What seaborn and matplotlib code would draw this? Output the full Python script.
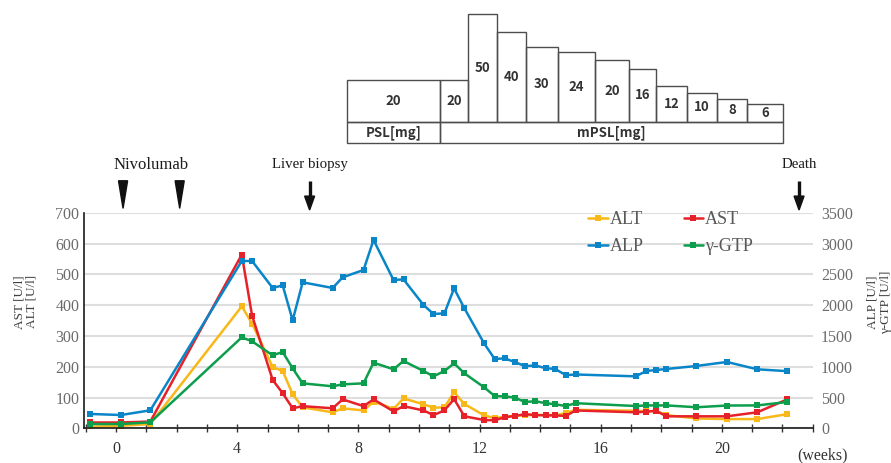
import numpy as np
import seaborn as sns
import matplotlib.pyplot as plt
from matplotlib.patches import Polygon

# sampling times (weeks) and lab values
weeks = [-0.85, 0.16, 1.13, 4.15, 4.49, 5.17, 5.5, 5.83, 6.16, 7.15, 7.48, 8.17, 8.5,
         9.16, 9.49, 10.15, 10.48, 10.84, 11.16, 11.5, 12.15, 12.5, 12.83, 13.16, 13.5,
         13.84, 14.18, 14.5, 14.85, 15.17, 17.16, 17.5, 17.83, 18.17, 19.16, 20.17, 21.17, 22.16]
alt = [5, 8, 14, 396, 340, 199, 186, 111, 68, 52, 65, 58, 87, 63, 97, 78, 67, 68, 117, 79,
       42, 33, 38, 41, 42, 44, 43, 43, 49, 60, 57, 55, 56, 43, 32, 30, 30, 46]
ast = [19, 19, 22, 564, 366, 157, 114, 65, 72, 65, 94, 72, 94, 55, 72, 58, 43, 58, 95, 39,
       27, 26, 36, 40, 46, 43, 42, 42, 40, 58, 52, 54, 57, 39, 39, 39, 52, 94]
alp = [233, 216, 292, 2716, 2716, 2278, 2321, 1753, 2370, 2278, 2451, 2570, 3057, 2408,
       2418, 2002, 1856, 1866, 2272, 1948, 1380, 1125, 1136, 1077, 1010, 1020, 977, 963,
       863, 874, 844, 930, 947, 963, 1012, 1077, 958, 928]
gtp = [70, 70, 97, 1477, 1412, 1185, 1239, 974, 730, 682, 714, 730, 1066, 958, 1093, 930,
       844, 930, 1055, 893, 666, 524, 518, 500, 427, 440, 408, 390, 362, 408, 362, 372, 372,
       372, 342, 370, 372, 427]

# events
nivolumab_weeks = [0.23, 2.1]
biopsy_week = 6.39
death_week = 22.55

# steroid schedule (schematic boxes)
dose_edges = [7.62, 10.68, 11.63, 12.59, 13.53, 14.58, 15.81, 16.94, 17.83, 18.84, 19.83, 20.84, 22.01]
dose_labels = ['20', '20', '50', '40', '30', '24', '20', '16', '12', '10', '8', '6']
dose_heights = [41.7, 41.7, 107.4, 89.4, 75, 70, 62, 52.4, 35.4, 29, 23, 18]

colors = {'ALT': '#F8B819', 'AST': '#E62129', 'ALP': '#0A85C8', 'γ-GTP': '#0C9E4C'}

sns.set_theme(style='white')
plt.rcParams['font.family'] = ['Liberation Serif', 'DejaVu Serif']

fig = plt.figure(figsize=(8.91, 4.63), dpi=100)
ax = fig.add_axes([0.0946, 0.0749, 0.8175, 0.4657])
ax2 = ax.twinx()

line_kw = dict(marker='s', markersize=4.6, markeredgewidth=0, linewidth=1.8)
sns.lineplot(x=weeks, y=alt, ax=ax, color=colors['ALT'], label='ALT', **line_kw)
sns.lineplot(x=weeks, y=ast, ax=ax, color=colors['AST'], label='AST', **line_kw)
sns.lineplot(x=weeks, y=gtp, ax=ax2, color=colors['γ-GTP'], label='γ-GTP', **line_kw)
sns.lineplot(x=weeks, y=alp, ax=ax2, color=colors['ALP'], label='ALP', **line_kw)

ax.set_xlim(-1.05, 23.0)
ax.set_ylim(0, 700)
ax2.set_ylim(0, 3500)
ax.set_yticks(range(0, 701, 100))
ax2.set_yticks(range(0, 3501, 500))
xt = list(range(-1, 24))
ax.set_xticks(xt)
ax.set_xticklabels([str(w) if (w >= 0 and w % 4 == 0) else '' for w in xt])
ax.set_xlabel('')
ax.set_ylabel('')
ax2.set_ylabel('')

ax.yaxis.grid(True, color='#DEDEDE', linewidth=1.5)
ax.xaxis.grid(False)
ax.set_axisbelow(True)
for s in ['top', 'right']:
    ax.spines[s].set_visible(False)
for s in ax2.spines.values():
    s.set_visible(False)
for s in ['left', 'bottom']:
    ax.spines[s].set_color('#1a1a1a')
    ax.spines[s].set_linewidth(1.2)

ax.tick_params(axis='x', direction='inout', length=6, width=1.0, color='#333333',
               pad=6, labelsize=11.5, labelcolor='#333333', bottom=True)
ax.tick_params(axis='y', length=0, pad=3.5, labelsize=11.5, labelcolor='#6b6b6b')
ax2.tick_params(axis='y', length=0, pad=6, labelsize=11.5, labelcolor='#6b6b6b')

# legend (ALT/AST on first row, ALP/γ-GTP on second)
h1, l1 = ax.get_legend_handles_labels()
h2, l2 = ax2.get_legend_handles_labels()
if ax.get_legend() is not None:
    ax.get_legend().remove()
handles = [h1[0], h2[1], h1[1], h2[0]]
labels = [l1[0], l2[1], l1[1], l2[0]]
ax2.legend(handles, labels, ncol=2, loc='center', bbox_to_anchor=(0.805, 0.906),
           frameon=False, fontsize=13, handlelength=1.1, handletextpad=0.1,
           columnspacing=2.2, labelspacing=0.55, borderpad=0, labelcolor='#595959')

# event markers above the plot
trans = ax.get_xaxis_transform()
for w in nivolumab_weeks:
    ax.add_patch(Polygon([[w - 0.15, 1.148], [w + 0.15, 1.148], [w, 1.020]], closed=True,
                         transform=trans, clip_on=False, color='#111111'))
ax.text(np.mean(nivolumab_weeks), 1.221, 'Nivolumab', transform=trans, ha='center',
        va='center', fontsize=12, color='#1a1a1a')
for w, txt in [(biopsy_week, 'Liver biopsy'), (death_week, 'Death')]:
    ax.plot([w, w], [1.148, 1.07], transform=trans, clip_on=False, color='#111111',
            lw=2.4, solid_capstyle='butt')
    ax.add_patch(Polygon([[w - 0.165, 1.077], [w + 0.165, 1.077], [w, 1.0125]], closed=True,
                         transform=trans, clip_on=False, color='#111111'))
    ax.text(w, 1.225, txt, transform=trans, ha='center', va='center', fontsize=10.7,
            color='#1a1a1a')
ax.set_xlim(-1.05, 23.0)

# axis titles
fig.text(0.0286, 0.348, 'AST [U/l]\nALT [U/l]', rotation=90, ha='center', va='center',
         fontsize=9.5, color='#404040', linespacing=1.1)
fig.text(0.9868, 0.348, 'ALP [U/l]\nγ-GTP [U/l]', rotation=90, ha='center', va='center',
         fontsize=9.5, color='#404040', linespacing=1.1)
fig.text(0.9226, 0.0173, '(weeks)', ha='center', va='center', fontsize=11.5, color='#333333')

# steroid dose panel
axd = fig.add_axes([0.0946, 0.6918, 0.8175, 0.278])
axd.set_xlim(ax.get_xlim())
axd.set_ylim(-21, 107.7)
axd.axis('off')
lefts = dose_edges[:-1]
widths = np.diff(dose_edges)
axd.bar(lefts, dose_heights, width=widths, align='edge', fill=False, edgecolor='#4d4d4d',
        linewidth=1.0, clip_on=False)
axd.bar([dose_edges[0], dose_edges[1]], [-21, -21],
        width=[dose_edges[1] - dose_edges[0], dose_edges[-1] - dose_edges[1]],
        align='edge', fill=False, edgecolor='#4d4d4d', linewidth=1.0, clip_on=False)
dose_font = dict(fontsize=9.5, fontweight='bold', color='#333333',
                 family=['Noto Sans CJK JP', 'DejaVu Sans'])
for l, wd, h, lab in zip(lefts, widths, dose_heights, dose_labels):
    axd.text(l + wd / 2, h / 2, lab, ha='center', va='center', **dose_font)
axd.text((dose_edges[0] + dose_edges[1]) / 2, -10.5, 'PSL[mg]', ha='center', va='center', **dose_font)
axd.text((dose_edges[1] + dose_edges[-1]) / 2, -10.5, 'mPSL[mg]', ha='center', va='center', **dose_font)

fig.savefig('out.png', dpi=100)
